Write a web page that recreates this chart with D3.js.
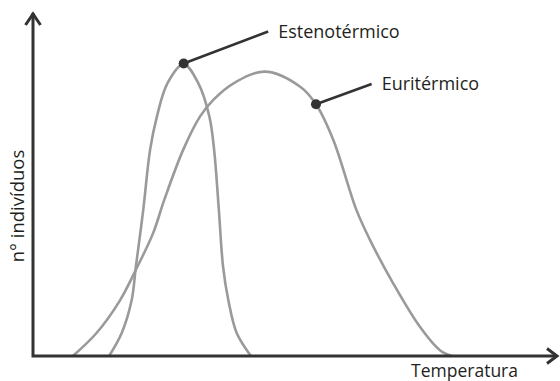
<!DOCTYPE html>
<head>
<meta charset="utf-8">
<title>Estenotérmico / Euritérmico</title>
<style>
body {
  margin: 0;
  padding: 0;
  background: #fff;
  font-family: "Open Sans", sans-serif;
}
.axis path {
  fill: none;
  stroke: #333;
  stroke-width: 3;
}
.curve {
  fill: none;
  stroke: #9a9a9a;
  stroke-width: 2.6;
}
.leader {
  stroke: #333;
  stroke-width: 2.6;
}
.dot {
  fill: #333;
}
text {
  fill: #231f20;
}
</style>
</head>
<body>
<svg id="viz" width="560" height="381"></svg>
<script src="https://d3js.org/d3.v7.min.js"></script>
<script>

// temperatura (0-100) e nº indivíduos (0-100)
var estenoT = [14.5, 16.9, 18.8, 19.6, 21.0, 22.3, 23.6, 25.6, 28.7, 31.5, 33.6, 34.5, 35.4, 36.2, 37.2, 38.8, 41.5]
var estenoN = [0, 6.7, 16.3, 26.1, 42.6, 60.1, 69.8, 79.5, 85.1, 79.5, 69.8, 60.1, 42.6, 26.1, 16.3, 6.7, 0]

var euriT = [7.6, 12.1, 16.6, 19.9, 22.9, 25.0, 28.6, 31.8, 34.3, 38.2, 44.2, 50.9, 53.9, 57.2, 61.6, 64.2, 68.6, 73.7, 77.5, 79.8]
var euriN = [0, 6.7, 16.3, 26.1, 35.9, 45.5, 60.1, 69.8, 74.6, 79.5, 82.9, 78.5, 73.4, 63.0, 42.6, 33.8, 21.2, 8.5, 1.7, 0]

// rótulos: ponto marcado na curva e fim da linha de chamada
var labels = ['Estenotérmico', 'Euritérmico']
var labelPointT = [28.7, 53.9]
var labelPointN = [85.3, 73.4]
var labelEndT = [44.8, 64.5]
var labelEndN = [94.6, 79.3]

var xTitle = 'Temperatura'
var yTitle = 'n° indivíduos'

var svg = d3.select('#viz')

var x = d3.scaleLinear().domain([0, 100]).range([33, 558])
var y = d3.scaleLinear().domain([0, 100]).range([356, 13])

var line = d3.line()
  .x(function(d) { return x(d[0]) })
  .y(function(d) { return y(d[1]) })
  .curve(d3.curveCatmullRom.alpha(0.5))

// curvas
svg.append('path')
  .attr('class', 'curve')
  .attr('d', line(d3.zip(euriT, euriN)))

svg.append('path')
  .attr('class', 'curve')
  .attr('d', line(d3.zip(estenoT, estenoN)))

// eixos com setas
var x0 = x.range()[0], x1 = x.range()[1]
var y0 = y.range()[0], y1 = y.range()[1]
var axis = svg.append('g').attr('class', 'axis')

axis.append('path')
  .attr('d', 'M' + x0 + ',' + y1 + 'V' + y0 + 'H' + (x1 - 1))
axis.append('path')
  .attr('stroke-linejoin', 'miter')
  .attr('d', 'M' + (x0 - 7.5) + ',' + (y1 + 12) + 'L' + x0 + ',' + (y1 + 1) + 'L' + (x0 + 7.5) + ',' + (y1 + 12))
axis.append('path')
  .attr('stroke-linejoin', 'miter')
  .attr('d', 'M' + (x1 - 11) + ',' + (y0 - 7.5) + 'L' + (x1 - 1) + ',' + y0 + 'L' + (x1 - 11) + ',' + (y0 + 7.5))

// chamadas
labels.forEach(function(name, i) {
  var px = x(labelPointT[i]), py = y(labelPointN[i])
  var ex = x(labelEndT[i]), ey = y(labelEndN[i])
  svg.append('line')
    .attr('class', 'leader')
    .attr('x1', px).attr('y1', py)
    .attr('x2', ex).attr('y2', ey)
  svg.append('circle')
    .attr('class', 'dot')
    .attr('cx', px).attr('cy', py)
    .attr('r', 5)
  svg.append('text')
    .attr('x', ex + 10)
    .attr('y', ey + 6)
    .attr('font-size', 18)
    .text(name)
})

// títulos dos eixos
svg.append('text')
  .attr('x', 518)
  .attr('y', 377)
  .attr('text-anchor', 'end')
  .attr('font-size', 17.5)
  .text(xTitle)

svg.append('text')
  .attr('transform', 'translate(24,206) rotate(-90)')
  .attr('text-anchor', 'middle')
  .attr('font-size', 18.5)
  .text(yTitle)

</script>
</body>
</html>
